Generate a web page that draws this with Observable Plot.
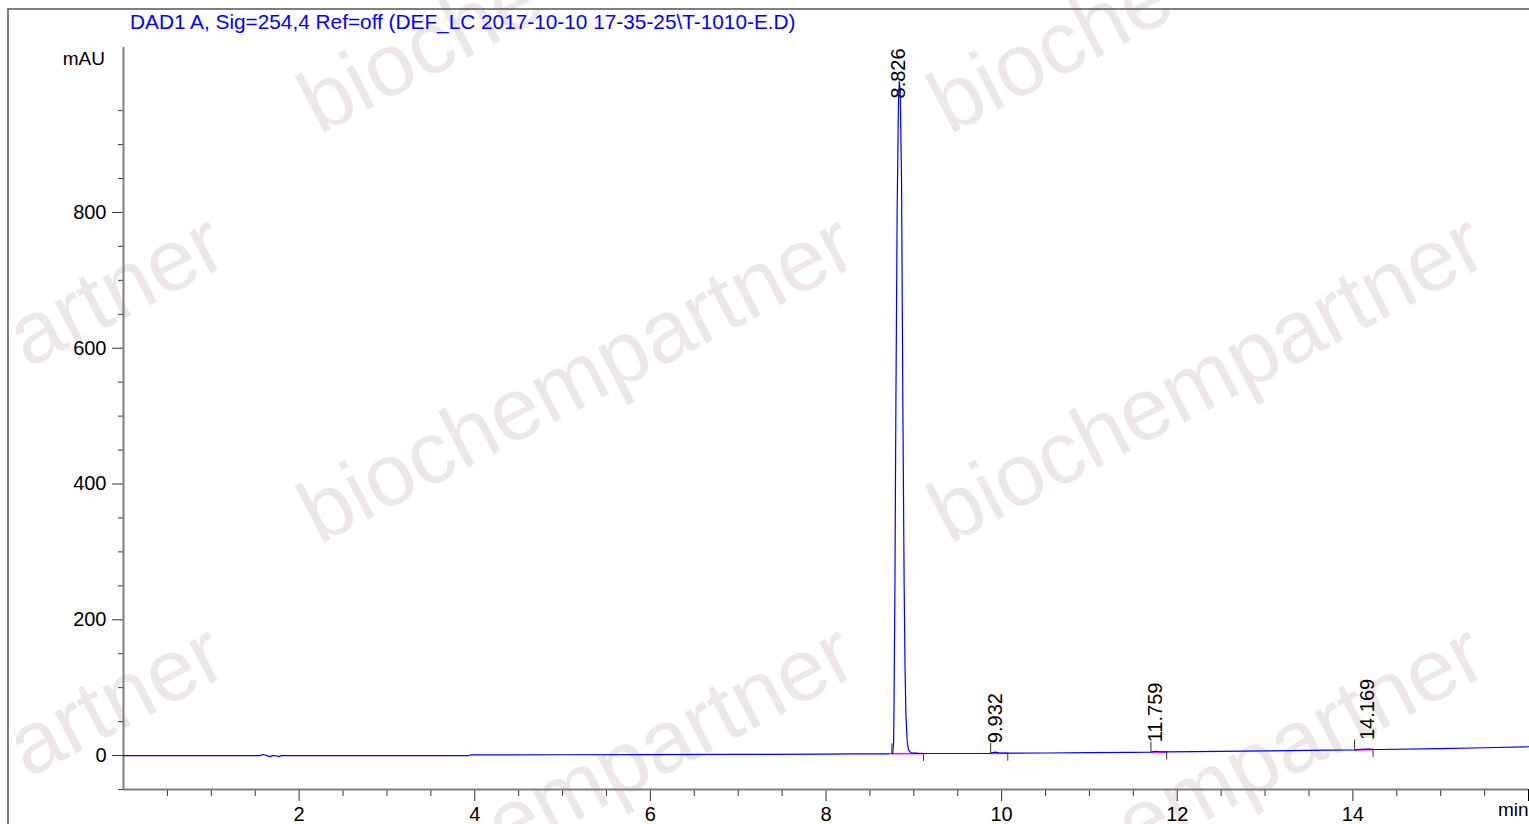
<!DOCTYPE html>
<html><head><meta charset="utf-8">
<script src="https://cdn.jsdelivr.net/npm/d3@7"></script>
<script src="https://cdn.jsdelivr.net/npm/@observablehq/plot@0.6"></script>
<style>
html,body{margin:0;padding:0;background:#fff;overflow:hidden;}
#chart{position:relative;width:1529px;height:824px;}
</style></head><body><div id="chart"></div>
<script>
// ---- data ----
const titleText = "DAD1 A, Sig=254,4 Ref=off (DEF_LC 2017-10-10 17-35-25\\T-1010-E.D)";
const yUnit = "mAU";
const xUnit = "min";
const watermarkText = "biochempartner";

const timeMin = [0, 1.55, 1.59, 1.62, 1.66, 1.70, 1.74, 1.77, 1.80, 3.93, 3.95, 5, 6, 7, 8, 8.3, 8.70,
  8.76, 8.77, 8.775, 8.785, 8.795, 8.81, 8.825, 8.835, 8.845, 8.86, 8.875, 8.89, 8.90, 8.91, 8.925, 8.94, 8.97,
  9.05, 9.3, 9.87, 9.90, 9.932, 9.97, 10.07, 10.5, 11, 11.5, 11.70, 11.73, 11.759, 11.80, 11.88,
  12.5, 13, 13.5, 14.02, 14.10, 14.169, 14.22, 14.3, 15, 15.5, 16];
const signalMAU = [0, 0, 1.5, 0.5, -1.5, 0, -0.3, -1.5, 0, 0, 0.9, 1.2, 1.5, 1.8, 2.1, 2.4, 2.5,
  3, 20, 80, 250, 500, 800, 960, 993, 980, 850, 520, 250, 130, 60, 20, 8, 4,
  3.2, 3.0, 3.2, 4.5, 5.0, 4.0, 3.5, 3.8, 4.2, 4.6, 5.0, 6.0, 6.3, 5.6, 5.3,
  6.2, 6.8, 7.5, 8.3, 9.3, 9.6, 9.0, 8.9, 10.3, 11.5, 13];

const peakRT = [8.826, 9.932, 11.759, 14.169];
const peakApex = [993, 5.0, 6.3, 9.6];
const peakStart = [8.75, 9.875, 11.70, 14.02];
const peakStartBase = [2.5, 3.2, 5.0, 8.3];
const peakEnd = [9.11, 10.07, 11.88, 14.23];
const peakEndBase = [3.1, 3.5, 5.3, 8.8];

const xMajorTicks = [2, 4, 6, 8, 10, 12, 14];
const xEndTick = [16];
const yMajorTicks = [0, 200, 400, 600, 800];

// ---- build ----
const xMinorTicks = d3.range(0.5, 16, 0.5).filter(v => v % 2 !== 0);
const yMinorTicks = d3.range(-50, 1001, 50).filter(v => v % 200 !== 0);
const signal = timeMin.map((t, i) => ({t, v: signalMAU[i]}));
const peaks = peakRT.map((rt, i) => ({rt, apex: peakApex[i], s: peakStart[i], sb: peakStartBase[i], e: peakEnd[i], eb: peakEndBase[i]}));
const font = "Arial, 'Liberation Sans', sans-serif";

const plot = Plot.plot({
  width: 1529, height: 824,
  marginLeft: 123, marginRight: 1, marginTop: 47, marginBottom: 35,
  style: {background: "white", fontFamily: font, fontSize: "20px", color: "#000", overflow: "visible"},
  x: {domain: [0, 16]},
  y: {domain: [-50, 1043]},
  marks: [
    Plot.axisX(xMinorTicks, {tickSize: 7, tickFormat: () => "", label: null, stroke: "#333"}),
    Plot.axisX(xEndTick, {tickSize: 12, tickFormat: () => "", label: null, stroke: "#000"}),
    Plot.axisX(xMajorTicks, {tickSize: 12, tickPadding: 5, label: null, stroke: "#333", fontSize: 20}),
    Plot.axisY(yMinorTicks, {tickSize: 5, tickFormat: () => "", label: null, stroke: "#333"}),
    Plot.axisY(yMajorTicks, {tickSize: 11, tickPadding: 6, label: null, stroke: "#333", fontSize: 20}),
    Plot.ruleX([0], {stroke: "#7f7f7f", strokeWidth: 2}),
    Plot.ruleY([-50], {stroke: "#7f7f7f", strokeWidth: 2}),
    Plot.link(peaks, {x1: "s", y1: "sb", x2: "e", y2: "eb", stroke: "#ff00ff", strokeWidth: 1.5}),
    Plot.ruleX(peaks, {x: "s", y1: "sb", y2: "sb", insetTop: -10, stroke: "#333"}),
    Plot.ruleX(peaks, {x: "e", y1: "eb", y2: "eb", insetBottom: -8, stroke: "#333"}),
    Plot.line(signal, {x: "t", y: "v", stroke: "#0000ff", strokeWidth: 1.2}),
    Plot.text(peaks.filter(d => d.apex > 100), {x: "rt", y: "apex", text: d => d.rt.toFixed(3), rotate: -90, textAnchor: "start", dy: 17, fontSize: 20, fill: "#000"}),
    Plot.text(peaks.filter(d => d.apex <= 100), {x: "rt", y: "apex", text: d => d.rt.toFixed(3), rotate: -90, textAnchor: "start", dy: -9, fontSize: 20, fill: "#000"}),
    Plot.text([xUnit], {frameAnchor: "bottom-right", textAnchor: "end", dy: 26, fontSize: 19, fill: "#000"})
  ]
});

document.getElementById("chart").appendChild(plot);

const svg = d3.select(plot);
// watermark (behind everything); only the parts visible inside the picture are written out
const wm = svg.insert("g", ":first-child")
  .attr("fill", "#eee7e7").attr("font-size", 88).attr("font-family", font)
  .attr("text-anchor", "start");
const measure = wm.append("text").attr("opacity", 0);
const prefixWidth = s => { measure.text(s); return s ? measure.node().getComputedTextLength() : 0; };
const wmPieces = [
  {i: 0, j: -1, from: 0, to: 6}, {i: 1, j: -1, from: 0, to: 6},
  {i: -1, j: 0, from: 8, to: 14}, {i: 0, j: 0, from: 0, to: 14}, {i: 1, j: 0, from: 0, to: 14},
  {i: -1, j: 1, from: 8, to: 14}, {i: 0, j: 1, from: 5, to: 14}, {i: 1, j: 1, from: 5, to: 14}
];
for (const p of wmPieces) {
  const off = prefixWidth(watermarkText.slice(0, p.from));
  wm.append("text")
    .attr("transform", `translate(${319 + 630 * p.i},${545 + 410 * p.j}) rotate(-27.5)`)
    .attr("x", off)
    .text(watermarkText.slice(p.from, p.to));
}
measure.remove();
// frame
svg.append("path").attr("d", "M8,824V9H1529").attr("fill", "none").attr("stroke", "#555").attr("stroke-width", 1.5);
// title and y unit
svg.append("text").attr("x", 130).attr("y", 29).attr("fill", "#0000ff").attr("text-anchor", "start")
  .attr("font-size", 20.8).attr("font-family", font).text(titleText);
svg.append("text").attr("x", 105).attr("y", 65).attr("text-anchor", "end").attr("fill", "#000")
  .attr("font-size", 19).attr("font-family", font).text(yUnit);
</script>
</body></html>
